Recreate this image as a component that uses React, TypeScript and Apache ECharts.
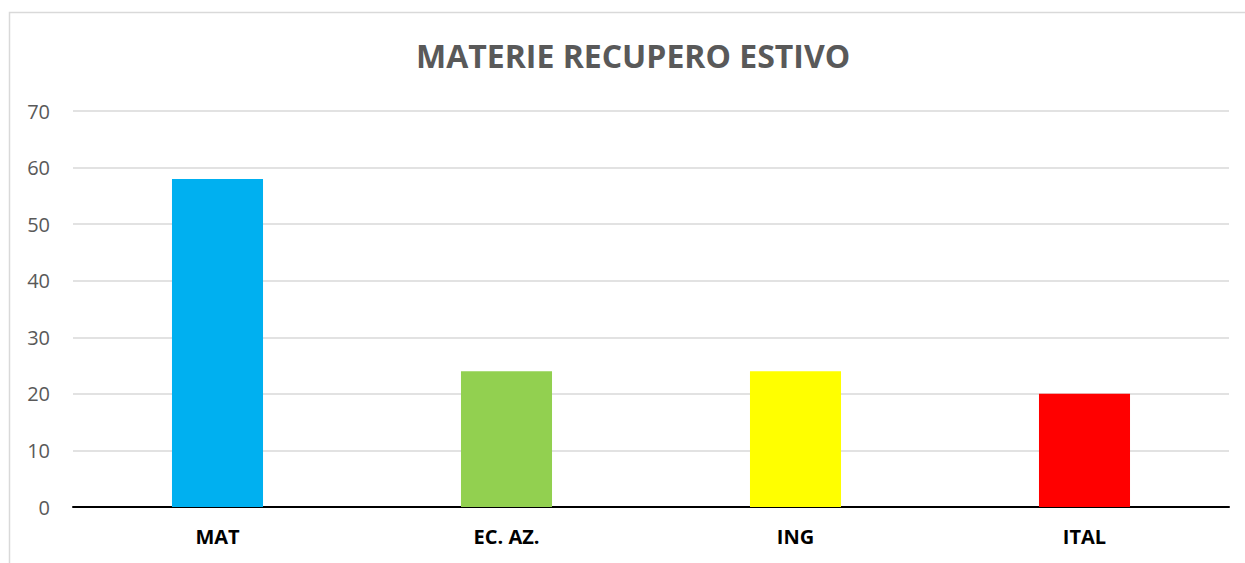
import React, { useEffect, useRef } from "react";
import * as echarts from "echarts";

const categories = ["MAT", "EC. AZ.", "ING", "ITAL"];
const values = [58, 24, 24, 20];
const barColors = ["#00B0F0", "#92D050", "#FFFF00", "#FF0000"];
const titleText = "MATERIE RECUPERO ESTIVO";

export default function App() {
  const ref = useRef<HTMLDivElement>(null);
  useEffect(() => {
    if (!ref.current) return;
    const chart = echarts.init(ref.current, undefined, { renderer: "svg" });
    chart.setOption({
      animation: false,
      backgroundColor: "#ffffff",
      title: {
        text: titleText,
        left: 411,
        top: 34,
        textStyle: {
          fontFamily: "Open Sans",
          fontWeight: "bold",
          fontSize: 32,
          color: "#595959",
        },
      },
      graphic: [
        {
          type: "rect",
          shape: { x: 9.5, y: 12.5, width: 1260, height: 600 },
          style: { fill: "none", stroke: "#d9d9d9", lineWidth: 1.5 },
          silent: true,
        },
      ],
      grid: { left: 73, right: 16, top: 111, bottom: 56 },
      xAxis: {
        type: "category",
        data: categories,
        axisTick: { show: false },
        axisLine: { lineStyle: { color: "#000000", width: 2 } },
        axisLabel: {
          fontFamily: "Open Sans",
          fontWeight: "bold",
          fontSize: 20,
          color: "#000000",
          margin: 19,
        },
      },
      yAxis: {
        type: "value",
        min: 0,
        max: 70,
        interval: 10,
        axisLine: { show: false },
        axisTick: { show: false },
        splitLine: { lineStyle: { color: "#d9d9d9", width: 1.5 } },
        axisLabel: {
          fontFamily: "Open Sans",
          fontSize: 20,
          color: "#595959",
          margin: 23,
        },
      },
      series: [
        {
          type: "bar",
          barWidth: "31.5%",
          data: values.map((v, i) => ({ value: v, itemStyle: { color: barColors[i] } })),
        },
      ],
    });
    return () => chart.dispose();
  }, []);
  return (
    <div
      ref={ref}
      style={{ position: "fixed", left: 0, top: 0, width: 1245, height: 563 }}
    />
  );
}
